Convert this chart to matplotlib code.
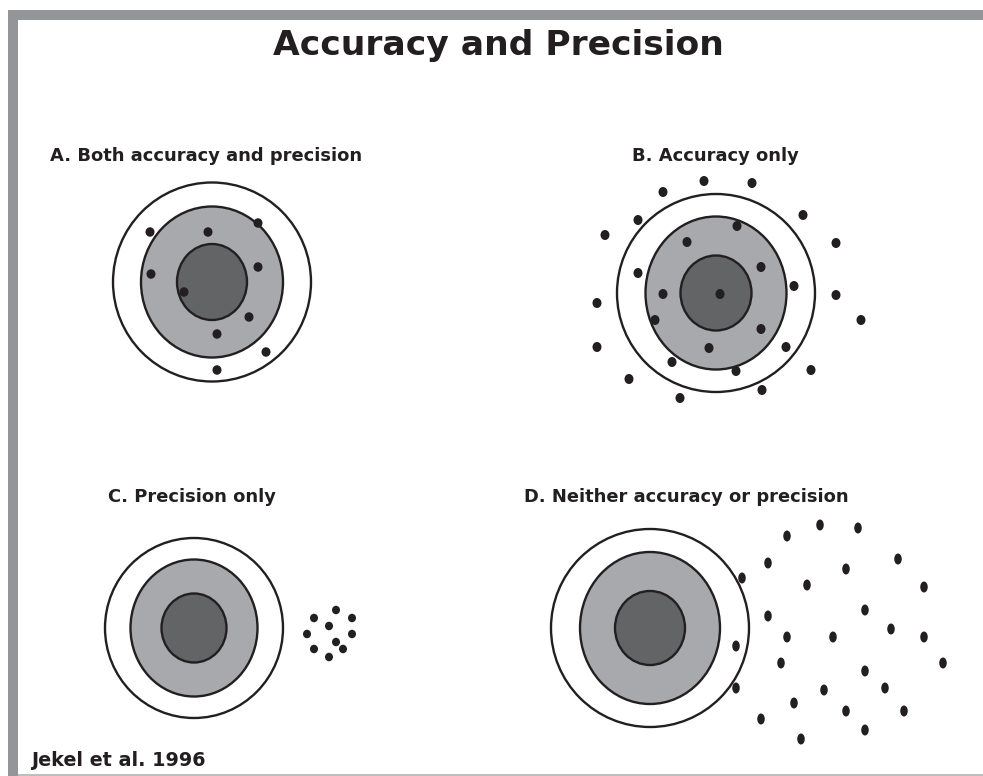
"""Accuracy and precision: four targets with hit patterns (Jekel et al. 1996)."""
import matplotlib.pyplot as plt
from matplotlib.patches import Ellipse, Rectangle

# panel labels and target centres (pixel coordinates of the page)
titles = ["A. Both accuracy and precision", "B. Accuracy only",
          "C. Precision only", "D. Neither accuracy or precision"]
title_x = [50, 632, 108, 524]
title_y = [156, 156, 497, 497]

centers_x = [212, 716, 194, 650]
centers_y = [282, 293, 628, 628]
# ring radii: (half width, half height) for outer, middle, inner rings
outer_r = [(99, 99.5), (99, 99), (89, 90), (99, 99)]
middle_r = [(71, 75.5), (70.5, 76.5), (63.5, 68.5), (70, 76)]
inner_r = [(35, 38), (35.5, 37.5), (32.5, 34.5), (35, 37)]

# hits, one pair of lists per panel
hits_a_x = [150, 208, 258, 151, 258, 184, 249, 217, 266, 217]
hits_a_y = [232, 232, 223, 274, 267, 292, 317, 334, 352, 370]

hits_b_x = [704, 752, 663, 638, 803, 605, 737, 687, 836, 638, 761, 794, 663, 720,
            836, 597, 655, 861, 761, 597, 709, 786, 672, 736, 811, 629, 762, 680]
hits_b_y = [181, 183, 192, 220, 215, 235, 226, 242, 243, 273, 267, 286, 294, 294,
            295, 303, 320, 320, 329, 347, 348, 347, 362, 371, 370, 379, 390, 398]

hits_c_x = [336, 314, 352, 329, 307, 352, 336, 314, 343, 329]
hits_c_y = [610, 618, 618, 626, 634, 634, 642, 649, 649, 657]

hits_d_x = [820, 858, 787, 768, 898, 846, 742, 807, 924, 865, 768, 891, 787, 833,
            924, 736, 781, 943, 865, 885, 824, 736, 794, 846, 904, 761, 865, 801]
hits_d_y = [525, 528, 536, 563, 559, 569, 578, 585, 587, 610, 616, 629, 637, 637,
            637, 646, 663, 663, 671, 688, 690, 688, 703, 711, 711, 719, 730, 739]

hits_x = [hits_a_x, hits_b_x, hits_c_x, hits_d_x]
hits_y = [hits_a_y, hits_b_y, hits_c_y, hits_d_y]
hit_size = [(9, 9.5), (9, 10), (8, 8.5), (7.5, 11)]

BORDER = "#939598"
MID = "#a7a9ac"
INNER = "#636466"
INK = "#231f20"

W, H = 983, 776
fig = plt.figure(figsize=(W / 100, H / 100), dpi=100)
ax = fig.add_axes([0, 0, 1, 1])
ax.set_xlim(0, W)
ax.set_ylim(H, 0)
ax.axis("off")

# page frame: thick bars top and left, thin line at the bottom
ax.add_patch(Rectangle((8, 10), W - 8, 10, color=BORDER, lw=0))
ax.add_patch(Rectangle((8, 10), 10, H - 10, color=BORDER, lw=0))
ax.add_patch(Rectangle((18, 774), W - 18, 2, color="#bcbec0", lw=0))

ax.text(498, 45, "Accuracy and Precision", ha="center", va="center",
        fontsize=24.8, fontweight="bold", color=INK)

for i in range(4):
    cx, cy = centers_x[i], centers_y[i]
    for (rx, ry), fc in zip([outer_r[i], middle_r[i], inner_r[i]], ["white", MID, INNER]):
        ax.add_patch(Ellipse((cx, cy), 2 * rx, 2 * ry, fc=fc, ec=INK, lw=1.7))
    w, h = hit_size[i]
    for x, y in zip(hits_x[i], hits_y[i]):
        ax.add_patch(Ellipse((x, y), w, h, fc=INK, ec="none", zorder=3))
    ax.text(title_x[i], title_y[i], titles[i], ha="left", va="center",
            fontsize=12.9, fontweight="bold", color=INK)

ax.text(31, 761, "Jekel et al. 1996", ha="left", va="center",
        fontsize=13.8, fontweight="bold", color=INK)

fig.savefig("out.png", dpi=100)
